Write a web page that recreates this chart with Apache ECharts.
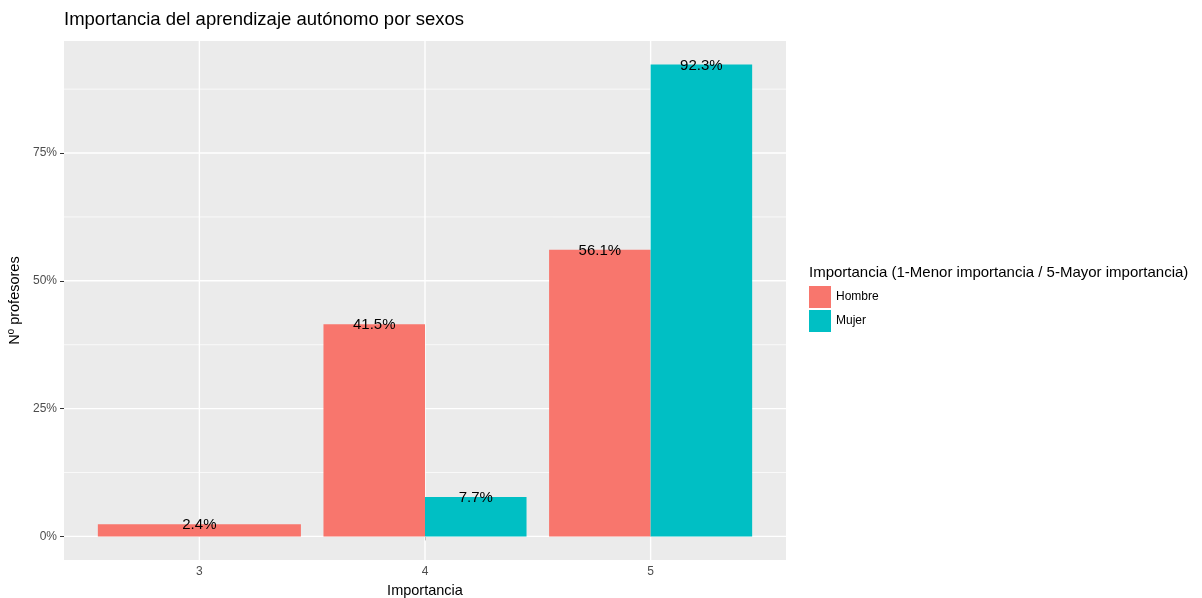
<!DOCTYPE html>
<html>
<head>
<meta charset="utf-8">
<script src="https://cdn.jsdelivr.net/npm/echarts@6/dist/echarts.min.js"></script>
<style>html,body{margin:0;padding:0;background:#fff}#c{width:1202px;height:598px}</style>
</head>
<body>
<div id="c"></div>
<script>
// ---- data ----
const categories = [3, 4, 5];
const seriesNames = ['Hombre', 'Mujer'];
const hombre = [2.4, 41.5, 56.1];
const mujer = [null, 7.7, 92.3];
const yTicks = [0, 25, 50, 75];
const yMinorTicks = [12.5, 37.5, 62.5, 87.5];
const yTickLabels = ['0%', '25%', '50%', '75%'];
const xTickLabels = ['3', '4', '5'];

const groupValues = [hombre, mujer];
const colors = ['#F8766D', '#00BFC4'];
const FONT = '"Liberation Sans", Arial, sans-serif';
const X_MIN = 2.4, X_MAX = 5.6, Y_MIN = -4.615, Y_MAX = 96.915;

// dodge layout like ggplot (missing groups get full width)
function buildData(gi) {
  const out = [];
  categories.forEach((c, i) => {
    const present = groupValues.map((g, k) => (g[i] != null ? k : -1)).filter(k => k >= 0);
    const v = groupValues[gi][i];
    if (v == null) return;
    out.push([c, v, present.indexOf(gi), present.length]);
  });
  return out;
}

function barRenderer(color) {
  return function (params, api) {
    const x = api.value(0), v = api.value(1), slot = api.value(2), n = api.value(3);
    const w = 0.9 / n;
    const x0 = x - 0.45 + slot * w;
    const p0 = api.coord([x0, 0]);
    const p1 = api.coord([x0 + w, v]);
    return {
      type: 'group',
      children: [
        { type: 'rect', shape: { x: p0[0], y: p1[1], width: p1[0] - p0[0], height: p0[1] - p1[1] }, style: { fill: color } },
        { type: 'text', z2: 10, x: (p0[0] + p1[0]) / 2, y: p1[1] + 1,
          style: { text: v.toFixed(1) + '%', fill: '#000', font: '15px ' + FONT, align: 'center', verticalAlign: 'middle' } }
      ]
    };
  };
}

function hLine(width) {
  return function (params, api) {
    const v = api.value(0);
    const a = api.coord([X_MIN, v]), b = api.coord([X_MAX, v]);
    return { type: 'line', shape: { x1: a[0], y1: a[1], x2: b[0], y2: b[1] }, style: { stroke: '#fff', lineWidth: width } };
  };
}
function vLine(width) {
  return function (params, api) {
    const v = api.value(0);
    const a = api.coord([v, Y_MIN]), b = api.coord([v, Y_MAX]);
    return { type: 'line', shape: { x1: a[0], y1: a[1], x2: b[0], y2: b[1] }, style: { stroke: '#fff', lineWidth: width } };
  };
}

const chart = echarts.init(document.getElementById('c'), null, { renderer: 'canvas' });
chart.setOption({
  animation: false,
  title: [
    { text: 'Importancia del aprendizaje autónomo por sexos', left: 64, top: 10, padding: 0,
      textStyle: { fontFamily: FONT, fontSize: 18.5, fontWeight: 'normal', color: '#000' } },
    { text: 'Importancia (1-Menor importancia / 5-Mayor importancia)', left: 809, top: 265, padding: 0,
      textStyle: { fontFamily: FONT, fontSize: 15, fontWeight: 'normal', color: '#000' } }
  ],
  legend: {
    data: seriesNames,
    orient: 'vertical', left: 809, top: 286,
    itemWidth: 22, itemHeight: 22, itemGap: 2,
    icon: 'rect', padding: 0,
    textStyle: { fontFamily: FONT, fontSize: 12, color: '#000', padding: [0, 0, 0, 0] },
    selectedMode: false
  },
  grid: { left: 64, right: 416, top: 41, bottom: 38, show: true, backgroundColor: '#EBEBEB', borderWidth: 0,
    containLabel: false, outerBoundsMode: 'none' },
  xAxis: {
    type: 'value', min: X_MIN, max: X_MAX,
    name: 'Importancia', nameLocation: 'middle', nameGap: 23,
    nameTextStyle: { fontFamily: FONT, fontSize: 14.5, color: '#000' },
    axisLine: { show: false },
    splitLine: { show: false },
    axisTick: { show: true, length: 4, lineStyle: { color: '#333', width: 1 }, customValues: categories },
    axisLabel: { customValues: categories, formatter: v => xTickLabels[categories.indexOf(v)], margin: 6,
      fontFamily: FONT, fontSize: 12, color: '#4D4D4D' }
  },
  yAxis: {
    type: 'value', min: Y_MIN, max: Y_MAX,
    name: 'Nº profesores', nameLocation: 'middle', nameGap: 38, nameRotate: 90,
    nameTextStyle: { fontFamily: FONT, fontSize: 14.5, color: '#000' },
    axisLine: { show: false },
    splitLine: { show: false },
    axisTick: { show: true, length: 4, lineStyle: { color: '#333', width: 1 }, customValues: yTicks },
    axisLabel: { customValues: yTicks, formatter: v => yTickLabels[yTicks.indexOf(v)], margin: 7,
      fontFamily: FONT, fontSize: 12, color: '#4D4D4D' }
  },
  series: [
    { type: 'custom', name: '_minor', z: 1, silent: true, renderItem: hLine(0.7), data: yMinorTicks.map(v => [v]) },
    { type: 'custom', name: '_major', z: 1, silent: true, renderItem: hLine(1.4), data: yTicks.map(v => [v]) },
    { type: 'custom', name: '_vmajor', z: 1, silent: true, renderItem: vLine(1.4), data: categories.map(v => [v]) },
    { type: 'custom', name: seriesNames[0], z: 2, itemStyle: { color: colors[0] }, renderItem: barRenderer(colors[0]), data: buildData(0) },
    { type: 'custom', name: seriesNames[1], z: 2, itemStyle: { color: colors[1] }, renderItem: barRenderer(colors[1]), data: buildData(1) }
  ]
});
</script>
</body>
</html>
